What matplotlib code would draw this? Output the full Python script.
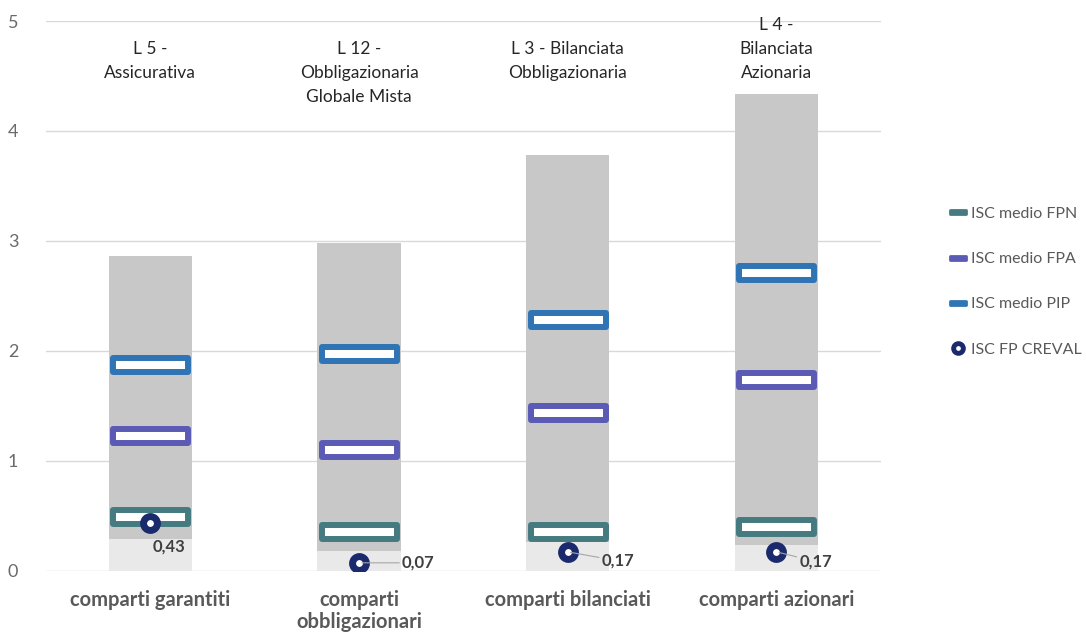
import numpy as np
import matplotlib
matplotlib.use("Agg")
import matplotlib.pyplot as plt
from matplotlib.path import Path
from matplotlib.lines import Line2D

plt.rcParams['font.family'] = ['Lato', 'DejaVu Sans']

# ISC per comparto (valori in %)
categories = ["comparti garantiti", "comparti\nobbligazionari",
              "comparti bilanciati", "comparti azionari"]
top_labels = ["L 5 -\nAssicurativa", "L 12 -\nObbligazionaria\nGlobale Mista",
              "L 3 - Bilanciata\nObbligazionaria", "L 4 -\nBilanciata\nAzionaria"]
isc_min = [0.29, 0.18, 0.26, 0.23]
isc_max = [2.86, 2.98, 3.78, 4.34]
isc_fpn = [0.49, 0.35, 0.35, 0.40]
isc_fpa = [1.22, 1.10, 1.43, 1.73]
isc_pip = [1.87, 1.97, 2.28, 2.71]
isc_creval = [0.43, 0.07, 0.17, 0.17]

col_fpn = "#457b80"
col_fpa = "#5b5ab5"
col_pip = "#2f74b5"
col_creval = "#1a2a6c"
txt_grey = "#595959"

# marker a barretta orizzontale
bar_marker = Path([(-1, -0.19), (1, -0.19), (1, 0.19), (-1, 0.19), (-1, -0.19)],
                  [Path.MOVETO, Path.LINETO, Path.LINETO, Path.LINETO, Path.CLOSEPOLY])

fig = plt.figure(figsize=(10.86, 6.33), dpi=100)
ax = fig.add_axes([0.0424, 0.0987, 0.7686, 0.8681])

x = np.arange(len(categories))
lo = np.array(isc_min)
hi = np.array(isc_max)
ax.bar(x, lo, width=0.4, color="#e9e9e9", zorder=2)
ax.bar(x, hi - lo, bottom=lo, width=0.4, color="#c8c8c8", zorder=2)

for vals, col in [(isc_fpn, col_fpn), (isc_fpa, col_fpa), (isc_pip, col_pip)]:
    ax.plot(x, vals, ls="none", marker=bar_marker, ms=54, mfc="white",
            mec=col, mew=4.3, solid_joinstyle="round", zorder=3)

ax.plot(x, isc_creval, ls="none", marker="o", ms=10, mfc="white",
        mec=col_creval, mew=5, zorder=4)

# etichette valore CREVAL
offsets = [(1.5, -17), (31, 0), (24.5, -6.5), (16.5, -7)]
for xi, v, (dx, dy), lead in zip(x, isc_creval, offsets, [False, True, True, True]):
    ax.annotate(("%.2f" % v).replace(".", ","), xy=(xi, v),
                xytext=(dx, dy), textcoords="offset points",
                ha="left", va="center", fontsize=12, fontweight="bold",
                color="#404040", zorder=5,
                arrowprops=dict(arrowstyle="-", color="#a6a6a6", lw=0.8,
                                shrinkA=0, shrinkB=2) if lead else None)

# linee di comparto sopra le barre
label_y = [4.82, 4.82, 4.82, 5.04]
for xi, lab, ly in zip(x, top_labels, label_y):
    ax.text(xi, ly, lab, ha="center", va="top", fontsize=12.5,
            color="#262626", linespacing=1.62, zorder=5)

ax.set_xlim(-0.5, 3.5)
ax.set_ylim(0, 5)
ax.set_yticks(range(6))
ax.set_xticks(x)
ax.set_xticklabels(categories, fontsize=14.5, fontweight="bold", color=txt_grey,
                   linespacing=1.15)
ax.tick_params(axis="x", length=0, pad=14)
ax.tick_params(axis="y", length=0, pad=20, labelsize=13, labelcolor="#6a6a6a")
ax.grid(axis="y", color="#d9d9d9", lw=1, zorder=0)
for s in ax.spines.values():
    s.set_visible(False)
ax.set_axisbelow(True)

handles = [
    Line2D([], [], ls="none", marker=bar_marker, ms=12, mfc=col_fpn, mec=col_fpn, mew=2),
    Line2D([], [], ls="none", marker=bar_marker, ms=12, mfc=col_fpa, mec=col_fpa, mew=2),
    Line2D([], [], ls="none", marker=bar_marker, ms=12, mfc=col_pip, mec=col_pip, mew=2),
    Line2D([], [], ls="none", marker="o", ms=7, mfc="white", mec=col_creval, mew=3.5),
]
fig.legend(handles, ["ISC medio FPN", "ISC medio FPA", "ISC medio PIP", "ISC FP CREVAL"],
           loc="center left", bbox_to_anchor=(0.862, 0.555), frameon=False,
           fontsize=11.5, labelcolor=txt_grey, labelspacing=1.95,
           handlelength=1.0, handletextpad=0.3)

fig.savefig("out.png", dpi=100)
